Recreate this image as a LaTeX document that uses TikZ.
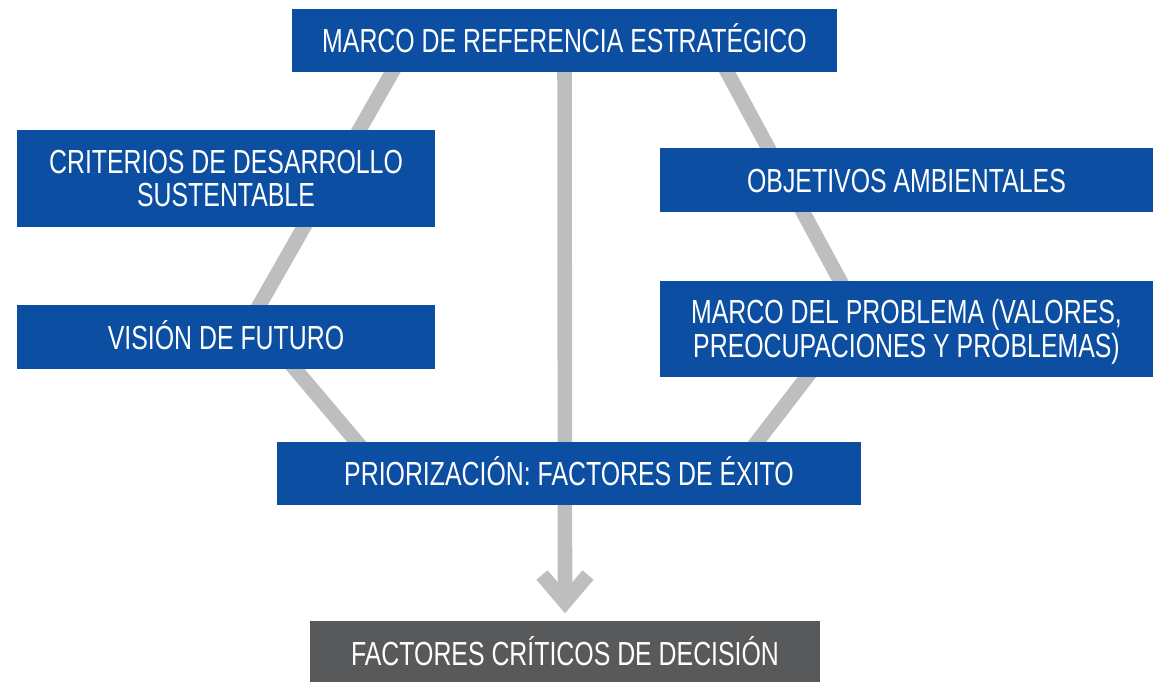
\documentclass[tikz,border=0pt]{standalone}
\usepackage{fontspec}
\setmainfont{Liberation Sans}[FakeStretch=0.745]
\usetikzlibrary{backgrounds}
\definecolor{boxblue}{RGB}{11,78,162}
\definecolor{linegray}{RGB}{188,190,192}
\definecolor{darkbox}{RGB}{88,89,91}
\begin{document}
\begin{tikzpicture}[x=0.02cm,y=-0.02cm,
  stagebox/.style={rectangle, fill=boxblue, text=white, inner sep=0pt, align=center,
    font=\fontsize{19}{19}\selectfont},
  oneline/.style={text height=13.7pt, text depth=0pt},
  finalbox/.style={stagebox, fill=darkbox},
  connector/.style={draw=linegray, line width=8.3pt},
]
\useasboundingbox (0,0) rectangle (1153,681);
\node[stagebox, oneline, minimum width=10.9cm, minimum height=1.26cm] (top) at (564.5,40.5) {MARCO DE REFERENCIA ESTRATÉGICO};
\node[stagebox, minimum width=8.36cm, minimum height=1.94cm] (crit) at (226,178.5) {CRITERIOS DE DESARROLLO\\SUSTENTABLE};
\node[stagebox, oneline, minimum width=9.86cm, minimum height=1.28cm] (obj) at (906.5,180) {OBJETIVOS AMBIENTALES};
\node[stagebox, oneline, minimum width=8.36cm, minimum height=1.28cm] (vis) at (226,337) {VISIÓN DE FUTURO};
\node[stagebox, minimum width=9.86cm, minimum height=1.92cm] (marco) at (906.5,329) {MARCO DEL PROBLEMA \smash{(}VALORES,\\PREOCUPACIONES Y PROBLEMAS\smash{)}};
\node[stagebox, oneline, minimum width=11.68cm, minimum height=1.26cm] (prio) at (569,473.5) {PRIORIZACIÓN: FACTORES DE ÉXITO};
\node[finalbox, oneline, minimum width=10.2cm, minimum height=1.28cm] (fcd) at (565,653) {FACTORES CRÍTICOS DE DECISIÓN};
\coordinate (lstart) at (402,55);
\coordinate (lbend) at (252,318);
\coordinate (lend) at (372,460);
\coordinate (rstart) at (718,55);
\coordinate (rbend) at (857,312);
\coordinate (rend) at (743,460);
\coordinate (vtip) at (565,602);
\coordinate (chevl) at (542,575);
\coordinate (chevr) at (588,575);
\begin{scope}[on background layer]
\draw[connector] (lstart) -- (lbend) -- (lend);
\draw[connector] (rstart) -- (rbend) -- (rend);
\draw[connector] (top.center) -- (vtip);
\draw[connector, miter limit=10] (chevl) -- (vtip) -- (chevr);
\end{scope}
\end{tikzpicture}
\end{document}
